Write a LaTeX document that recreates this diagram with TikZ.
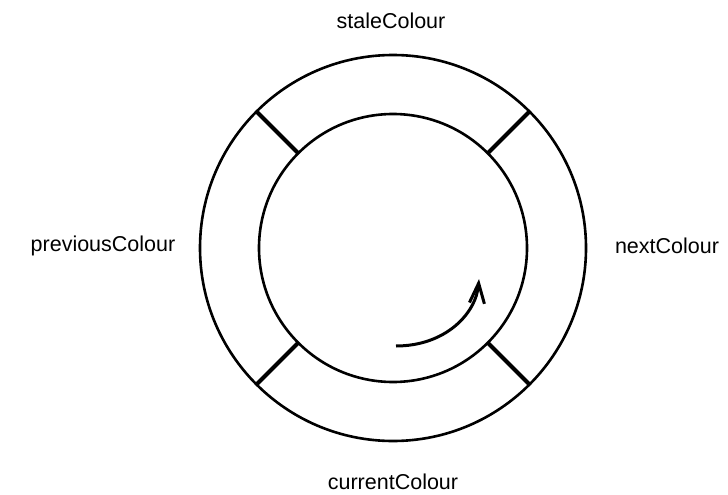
\documentclass[tikz,border=0pt]{standalone}
\usepackage{fontspec}
\setmainfont{Liberation Sans}
\usetikzlibrary{arrows.meta}
\begin{document}
\begin{tikzpicture}[x=1pt,y=-1pt,
  ring/.style={line width=2.6pt},
  divider/.style={line width=4pt},
  lbl/.style={font=\fontsize{21.5}{24}\selectfont, inner sep=0pt},
  turn/.style={line width=3pt, -{Straight Barb[length=20pt,width=15pt]}}]
\useasboundingbox (0,0) rectangle (728,495);
\coordinate (c) at (393,248);
\draw[ring] (c) circle[radius=193];
\draw[ring] (c) circle[radius=134];
\draw[divider] ([shift={(c)}]135:134) coordinate (itl) -- ([shift={(c)}]135:193) coordinate (otl);
\draw[divider] ([shift={(c)}]45:134) coordinate (itr) -- ([shift={(c)}]45:193) coordinate (otr);
\draw[divider] ([shift={(c)}]-45:134) coordinate (ibr) -- ([shift={(c)}]-45:193) coordinate (obr);
\draw[divider] ([shift={(c)}]-135:134) coordinate (ibl) -- ([shift={(c)}]-135:193) coordinate (obl);
\coordinate (as) at (396,346);
\coordinate (ae) at (479,279);
\draw[turn] (as) .. controls (445,346) and (476,314) .. (ae);
\node[lbl] (stale) at (391,21) {staleColour};
\node[lbl] (current) at (393,482) {currentColour};
\node[lbl] (previous) at (103,246) {previousColour};
\node[lbl] (next) at (667,246) {nextColour};
\end{tikzpicture}
\end{document}
